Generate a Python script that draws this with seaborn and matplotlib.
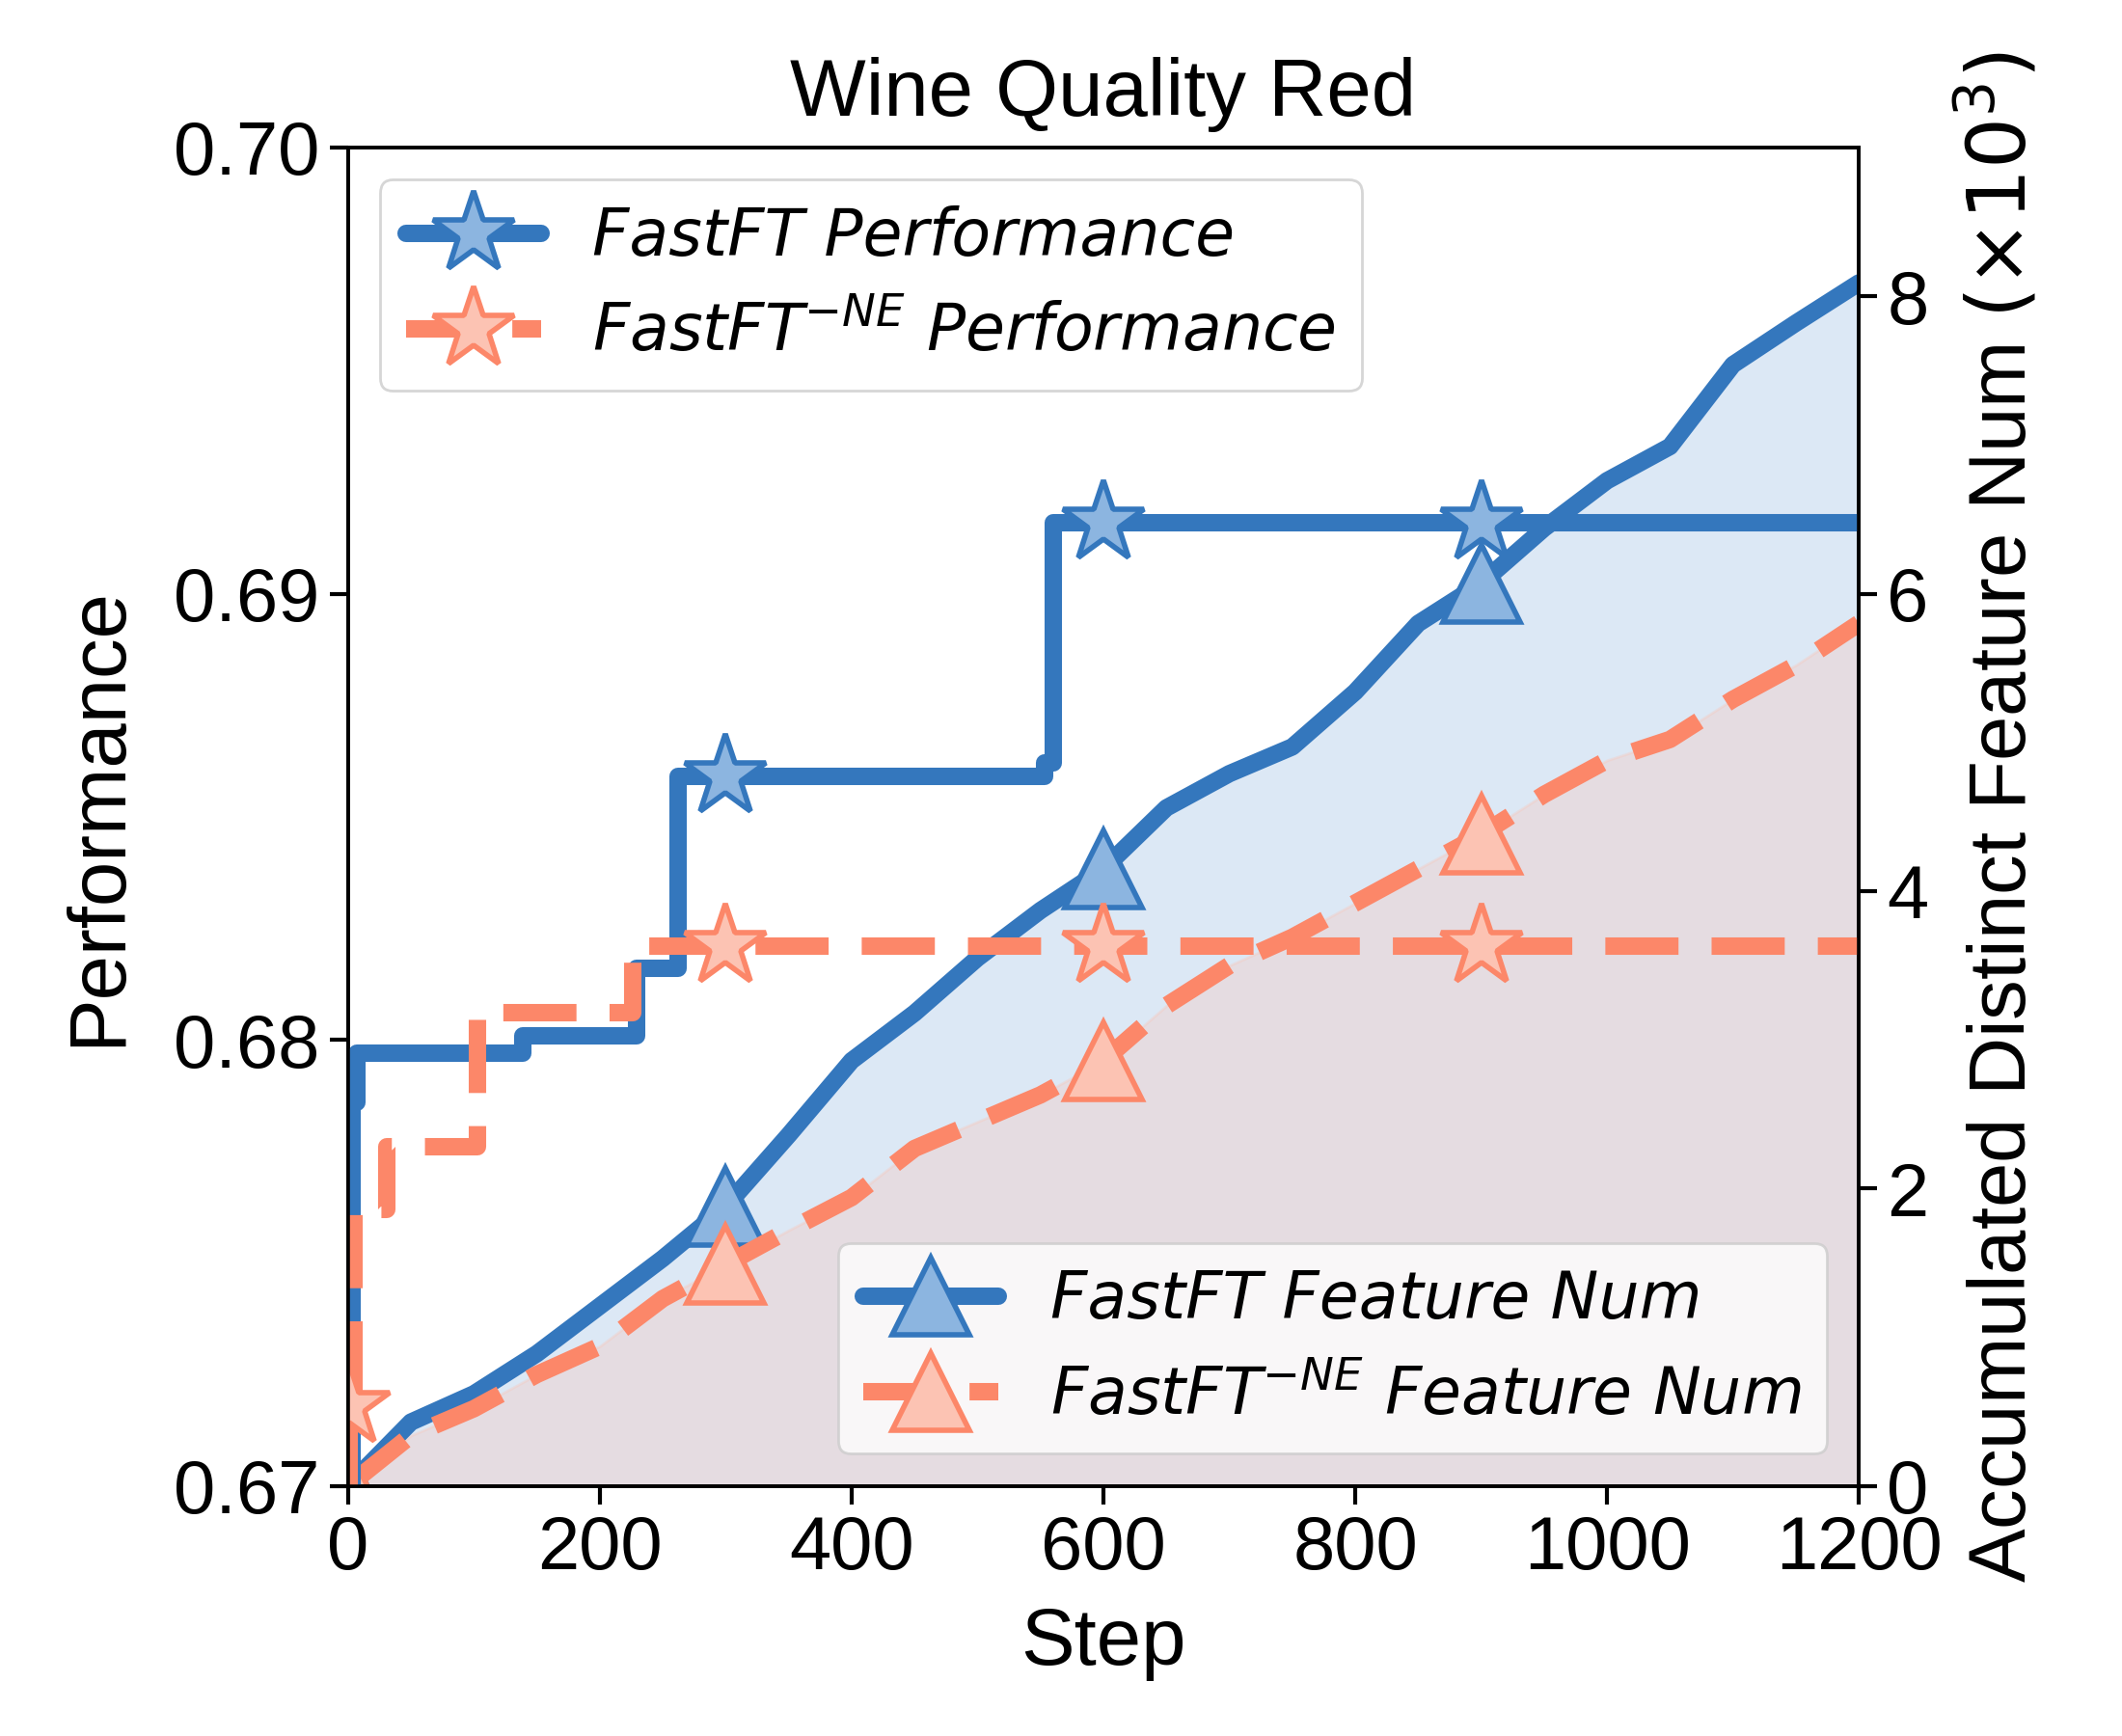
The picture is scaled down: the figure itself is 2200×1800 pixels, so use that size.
import matplotlib.pyplot as plt
import pandas as pd
import seaborn as sns

# best performance so far (step-wise)
perf_steps = [0, 3, 7, 139, 229, 262, 300, 553, 560, 600, 900, 1200]
perf_fastft = [0.6675, 0.6786, 0.6797, 0.6801, 0.6816, 0.6859, 0.6859,
               0.6862, 0.6916, 0.6916, 0.6916, 0.6916]
perf_ne_steps = [0, 1, 5, 31, 103, 226, 300, 600, 900, 1200]
perf_ne = [0.6698, 0.6718, 0.6762, 0.6776, 0.6806, 0.6821, 0.6821,
           0.6821, 0.6821, 0.6821]

# accumulated distinct features (x10^3)
feat_steps = [0, 50, 100, 150, 200, 250, 300, 350, 400, 450, 500, 550, 600,
              650, 700, 750, 800, 850, 900, 950, 1000, 1050, 1100, 1150, 1200]
feat_fastft = [0.0, 0.43, 0.62, 0.89, 1.21, 1.53, 1.88, 2.36, 2.86, 3.18,
               3.55, 3.87, 4.15, 4.56, 4.79, 4.97, 5.34, 5.80, 6.07, 6.44,
               6.76, 6.99, 7.54, 7.82, 8.09]
feat_ne = [0.0, 0.34, 0.52, 0.75, 0.94, 1.26, 1.49, 1.72, 1.94, 2.27, 2.45,
           2.63, 2.86, 3.23, 3.50, 3.69, 3.92, 4.15, 4.38, 4.65, 4.88, 5.02,
           5.29, 5.52, 5.80]

blue = "#3477bd"
blue_light = "#8cb5e0"
orange = "#fc8769"
orange_light = "#fcc3b3"

sns.set_theme(style="ticks")
plt.rcParams["font.family"] = ["Liberation Sans", "DejaVu Sans"]
plt.rcParams["mathtext.fontset"] = "dejavusans"
plt.rcParams["axes.linewidth"] = 1.3
plt.rcParams["axes.edgecolor"] = "black"
plt.rcParams["text.color"] = "black"
plt.rcParams["axes.labelcolor"] = "black"

fig = plt.figure(figsize=(11, 9), dpi=200)
ax1 = fig.add_axes([0.164, 0.144, 0.712, 0.771])
ax2 = ax1.twinx()

perf_df = pd.DataFrame({"step": perf_steps, "perf": perf_fastft})
perf_ne_df = pd.DataFrame({"step": perf_ne_steps, "perf": perf_ne})
feat_df = pd.DataFrame({"step": feat_steps, "fastft": feat_fastft, "ne": feat_ne})

lw = 6.5
dash = (4.2, 1.9)

# feature counts on the right axis
ax2.fill_between(feat_df["step"], feat_df["fastft"], color=blue_light, alpha=0.3)
ax2.fill_between(feat_df["step"], feat_df["ne"], color=orange_light, alpha=0.3)
sns.lineplot(data=feat_df, x="step", y="fastft", ax=ax2, color=blue,
             linewidth=lw, marker="^", markersize=29, markerfacecolor=blue_light,
             markeredgecolor=blue, markeredgewidth=2, markevery=[0, 6, 12, 18],
             estimator=None, errorbar=None, solid_joinstyle="round")
sns.lineplot(data=feat_df, x="step", y="ne", ax=ax2, color=orange,
             linewidth=lw, marker="^", markersize=29, markerfacecolor=orange_light,
             markeredgecolor=orange, markeredgewidth=2, markevery=[0, 6, 12, 18],
             estimator=None, errorbar=None, dashes=dash)

# performance on the left axis
sns.lineplot(data=perf_df, x="step", y="perf", ax=ax1, color=blue,
             linewidth=lw, drawstyle="steps-post", marker="*", markersize=32,
             markerfacecolor=blue_light, markeredgecolor=blue, markeredgewidth=2,
             markevery=[0, 6, 9, 10], estimator=None, errorbar=None)
sns.lineplot(data=perf_ne_df, x="step", y="perf", ax=ax1, color=orange,
             linewidth=lw, drawstyle="steps-post", marker="*", markersize=32,
             markerfacecolor=orange_light, markeredgecolor=orange, markeredgewidth=2,
             markevery=[1, 6, 7, 8], estimator=None, errorbar=None, dashes=dash)

ax1.set_zorder(ax2.get_zorder() + 1)
ax1.patch.set_visible(False)

ax1.set_xlim(0, 1200)
ax1.set_ylim(0.67, 0.70)
ax1.set_yticks([0.67, 0.68, 0.69, 0.70])
ax1.set_yticklabels(["0.67", "0.68", "0.69", "0.70"])
ax1.set_xticks([0, 200, 400, 600, 800, 1000, 1200])
ax2.set_ylim(0, 9)
ax2.set_yticks([0, 2, 4, 6, 8])

ax1.set_xlabel("Step", fontsize=30, labelpad=8)
ax1.set_ylabel("Performance", fontsize=30, labelpad=14)
ax2.set_ylabel(r"Accumulated Distinct Feature Num $(\times10^3)$", fontsize=30,
               labelpad=10)
ax1.set_title("Wine Quality Red", fontsize=30, pad=12)
for ax in (ax1, ax2):
    ax.tick_params(labelsize=28, length=7, width=1.5, direction="out", colors="black")

leg_font = {"family": "DejaVu Sans", "style": "italic", "size": 24}
ax1.legend(ax1.get_lines()[:2],
           ["FastFT Performance", r"FastFT$^{-NE}$ Performance"],
           loc="upper left", prop=leg_font, handlelength=2.1)
ax2.legend(ax2.get_lines()[:2],
           ["FastFT Feature Num", r"FastFT$^{-NE}$ Feature Num"],
           loc="lower right", prop=leg_font, handlelength=2.1)

fig.savefig("out.png", dpi=200)
